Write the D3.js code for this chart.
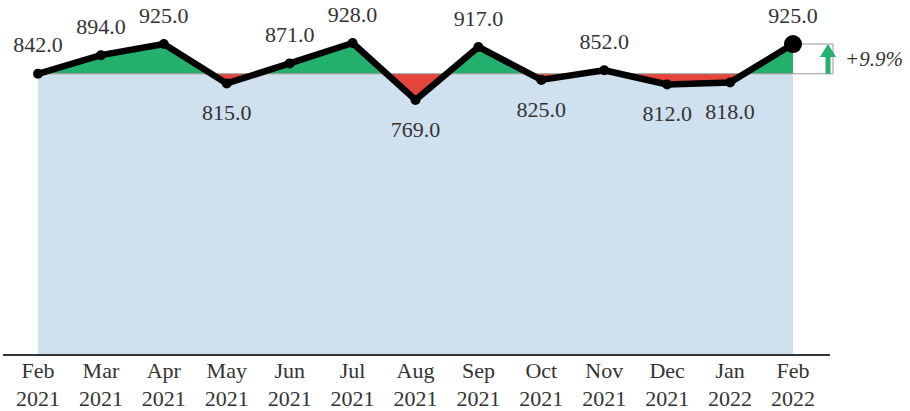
<!DOCTYPE html>
<html>
<head>
<meta charset="utf-8">
<script src="https://cdn.jsdelivr.net/npm/d3@7"></script>
<style>
  html, body { margin: 0; padding: 0; background: #fff; }
  svg { display: block; }
  text { font-family: "Liberation Serif", "Times New Roman", serif; fill: #333; }
</style>
</head>
<body>
<svg id="chart" width="910" height="411"></svg>
<script>
// Monthly values, Feb 2021 – Feb 2022
const months = ["Feb", "Mar", "Apr", "May", "Jun", "Jul", "Aug", "Sep", "Oct", "Nov", "Dec", "Jan", "Feb"];
const years  = ["2021", "2021", "2021", "2021", "2021", "2021", "2021", "2021", "2021", "2021", "2021", "2022", "2022"];
const values = [842, 894, 925, 815, 871, 928, 769, 917, 825, 852, 812, 818, 925];

const svg = d3.select("#chart");
const W = 910, H = 411;
const baseY = 355;

const keys = d3.range(values.length);
const x = d3.scalePoint().domain(keys).range([38, 793]);
const y = d3.scaleLinear().domain([57, 1048]).range([baseY, 0]);

const ref = values[0];
const last = values[values.length - 1];
const pts = keys.map(i => [x(i), y(values[i])]);

// Light area under the series
svg.append("path")
  .attr("d", d3.area().x(d => d[0]).y0(baseY).y1(d => d[1])(pts))
  .attr("fill", "#cfe0ef");

// Gain / loss against the first month
const clipAbove = svg.append("clipPath").attr("id", "above");
clipAbove.append("rect").attr("x", 0).attr("y", 0).attr("width", W).attr("height", y(ref));
const clipBelow = svg.append("clipPath").attr("id", "below");
clipBelow.append("rect").attr("x", 0).attr("y", y(ref)).attr("width", W).attr("height", H - y(ref));

const band = d3.area().x(d => d[0]).y0(y(ref)).y1(d => d[1]);
svg.append("path").attr("d", band(pts)).attr("fill", "#22b06c").attr("clip-path", "url(#above)");
svg.append("path").attr("d", band(pts)).attr("fill", "#e5443a").attr("clip-path", "url(#below)");

// Reference line at the first value
svg.append("line")
  .attr("x1", x(0)).attr("x2", x(keys.length - 1))
  .attr("y1", y(ref)).attr("y2", y(ref))
  .attr("stroke", "#999").attr("stroke-width", 1);

// Change bracket on the right
const bx0 = x(keys.length - 1), bx1 = 833;
const br = svg.append("g").attr("stroke", "#999").attr("stroke-width", 1).attr("fill", "none");
br.append("line").attr("x1", bx0).attr("x2", bx1).attr("y1", y(last)).attr("y2", y(last));
br.append("line").attr("x1", bx0).attr("x2", bx1).attr("y1", y(ref)).attr("y2", y(ref));
br.append("line").attr("x1", bx1).attr("x2", bx1).attr("y1", y(last)).attr("y2", y(ref));

// Arrow
const ax = 828;
svg.append("line")
  .attr("x1", ax).attr("x2", ax).attr("y1", y(ref)).attr("y2", y(last) + 10)
  .attr("stroke", "#22b06c").attr("stroke-width", 5);
svg.append("path")
  .attr("d", `M${ax - 8},${y(last) + 13} L${ax},${y(last)} L${ax + 8},${y(last) + 13} Z`)
  .attr("fill", "#22b06c");

const pct = (last - ref) / ref * 100;
svg.append("text")
  .attr("x", 845).attr("y", y((last + ref) / 2))
  .attr("dy", "0.35em")
  .style("font-style", "italic")
  .style("font-size", "21px")
  .text((pct >= 0 ? "+" : "") + pct.toFixed(1) + "%");

// Series line
svg.append("path")
  .attr("d", d3.line()(pts))
  .attr("fill", "none")
  .attr("stroke", "#000")
  .attr("stroke-width", 6.5)
  .attr("stroke-linejoin", "round");

svg.selectAll("circle.pt").data(pts).join("circle")
  .attr("class", "pt")
  .attr("cx", d => d[0]).attr("cy", d => d[1])
  .attr("r", (d, i) => i === pts.length - 1 ? 9 : 5)
  .attr("fill", "#000");

// Value labels
svg.selectAll("text.val").data(keys).join("text")
  .attr("class", "val")
  .attr("x", i => x(i))
  .attr("y", i => y(values[i]) + (values[i] < ref ? 29 : -29))
  .attr("dy", "0.35em")
  .attr("text-anchor", "middle")
  .style("font-size", "22px")
  .text(i => values[i].toFixed(1));

// X axis
const axis = svg.append("g").attr("transform", `translate(0,${baseY})`);
axis.append("line").attr("x1", 3).attr("x2", 830).attr("y1", 0).attr("y2", 0)
  .attr("stroke", "#333").attr("stroke-width", 2);
const ticks = axis.selectAll("g.tick").data(keys).join("g")
  .attr("class", "tick")
  .attr("transform", i => `translate(${x(i)},0)`);
ticks.append("text").attr("y", 15).attr("dy", "0.35em").attr("text-anchor", "middle")
  .style("font-size", "22px").text(i => months[i]);
ticks.append("text").attr("y", 43).attr("dy", "0.35em").attr("text-anchor", "middle")
  .style("font-size", "22px").text(i => years[i]);
</script>
</body>
</html>
